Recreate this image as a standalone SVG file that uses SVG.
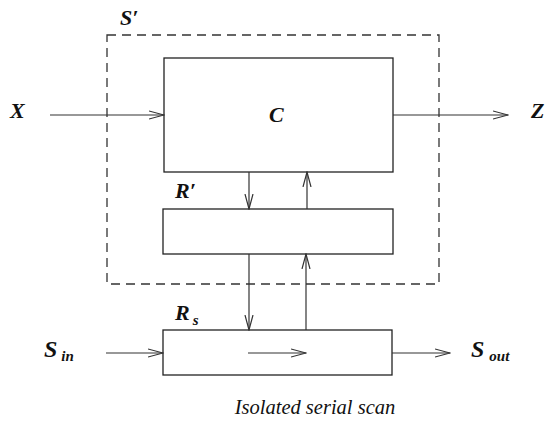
<svg xmlns="http://www.w3.org/2000/svg" width="552" height="423" viewBox="0 0 552 423">
  <style>
    .box { fill: none; stroke: #222; stroke-width: 1.3; }
    .frame { fill: none; stroke: #333; stroke-width: 1.3; stroke-dasharray: 9 6; }
    .wire { fill: none; stroke: #333; stroke-width: 1.2; }
    .lbl { font-family: "Liberation Serif", "DejaVu Serif", serif; font-style: italic; font-weight: bold; fill: #111; }
    .sub { font-size: 15px; }
    .cap { font-family: "Liberation Serif", "DejaVu Serif", serif; font-style: italic; font-size: 20.5px; fill: #111; }
  </style>
  <defs>
    <marker id="open" viewBox="0 0 16 10" refX="15" refY="5" markerWidth="16" markerHeight="10" markerUnits="userSpaceOnUse" orient="auto">
      <path d="M0,1 L15,5 L0,9" fill="none" stroke="#333" stroke-width="1.2"/>
    </marker>
  </defs>

  <!-- dashed boundary of S' -->
  <g id="sprime">
    <rect class="frame" x="107" y="35" width="332" height="249"/>
    <text class="lbl" x="120" y="25" font-size="22">S′</text>
  </g>

  <g id="c">
    <rect class="box" x="164" y="58" width="229" height="114"/>
    <text class="lbl" x="269" y="122" font-size="22">C</text>
  </g>

  <g id="rprime">
    <rect class="box" x="163" y="209" width="230" height="45"/>
    <text class="lbl" x="175" y="198" font-size="22">R′</text>
  </g>

  <g id="rs">
    <rect class="box" x="163" y="330" width="229" height="45"/>
    <text class="lbl" x="175" y="320" font-size="22">R<tspan class="sub" dx="3" dy="5">s</tspan></text>
  </g>

  <g id="x">
    <text class="lbl" x="10" y="118" font-size="22">X</text>
  </g>
  <g id="z">
    <text class="lbl" x="531" y="118" font-size="22">Z</text>
  </g>
  <g id="sin">
    <text class="lbl" x="44" y="357" font-size="24">S<tspan class="sub" dx="4" dy="4">in</tspan></text>
  </g>
  <g id="sout">
    <text class="lbl" x="471" y="357" font-size="24">S<tspan class="sub" dx="5" dy="4">out</tspan></text>
  </g>

  <g id="connectors">
    <line class="wire" x1="50" y1="115" x2="164" y2="115" marker-end="url(#open)"/>
    <line class="wire" x1="393" y1="115" x2="508" y2="115" marker-end="url(#open)"/>
    <line class="wire" x1="249" y1="172" x2="249" y2="209" marker-end="url(#open)"/>
    <line class="wire" x1="307" y1="209" x2="307" y2="172" marker-end="url(#open)"/>
    <line class="wire" x1="249" y1="254" x2="249" y2="330" marker-end="url(#open)"/>
    <line class="wire" x1="306" y1="330" x2="306" y2="254" marker-end="url(#open)"/>
    <line class="wire" x1="106" y1="353" x2="163" y2="353" marker-end="url(#open)"/>
    <line class="wire" x1="248" y1="353" x2="306" y2="353" marker-end="url(#open)"/>
    <line class="wire" x1="392" y1="353" x2="450" y2="353" marker-end="url(#open)"/>
  </g>

  <text class="cap" x="315" y="414" text-anchor="middle">Isolated serial scan</text>
</svg>
